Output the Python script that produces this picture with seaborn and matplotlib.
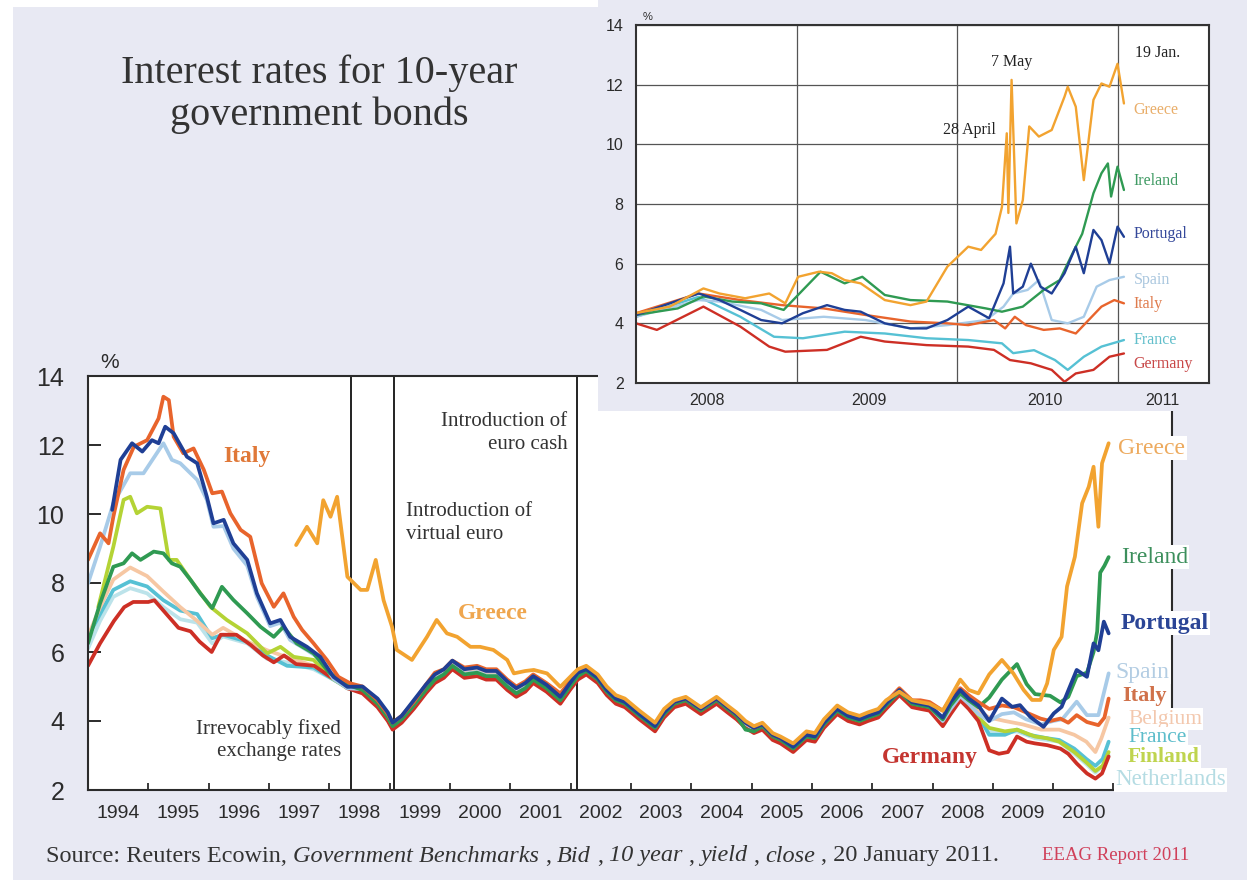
import matplotlib
matplotlib.use("Agg")
import matplotlib.pyplot as plt
from matplotlib.patches import Rectangle
import seaborn as sns
import pandas as pd

sns.set_theme(style="white")
plt.rcParams['font.family'] = ['Liberation Sans', 'DejaVu Sans']
SERIF = ['Liberation Serif', 'DejaVu Serif']

# --- Main chart data (10-year yields, %) ---
# shared time points for the period where the curves run together
MID_T = [1998.55, 1998.8, 1998.97, 1999.05, 1999.2, 1999.4, 1999.6, 1999.75, 1999.9, 2000.04,
         2000.24, 2000.45, 2000.6, 2000.77, 2000.95, 2001.1, 2001.25, 2001.38, 2001.6, 2001.83,
         2001.99, 2002.12, 2002.26, 2002.45, 2002.6, 2002.75, 2002.9, 2003.14, 2003.4, 2003.55,
         2003.72, 2003.91, 2004.16, 2004.42, 2004.6, 2004.75, 2004.9, 2005.04, 2005.18, 2005.35,
         2005.48, 2005.69, 2005.91, 2006.05, 2006.2, 2006.42, 2006.6, 2006.79, 2006.93, 2007.1,
         2007.23, 2007.45, 2007.66, 2007.8, 2007.95, 2008.17, 2008.3, 2008.46, 2008.6, 2008.76,
         2008.94]
EARLY_T = [1994.0, 1994.2, 1994.42, 1994.7, 1994.98, 1995.25, 1995.53, 1995.81, 1996.06, 1996.24,
           1996.64, 1996.97, 1997.3, 1997.74, 1998.07, 1998.3]

germany_t = [1994.0, 1994.2, 1994.43, 1994.6, 1994.75, 1995.0, 1995.1, 1995.3, 1995.5, 1995.7,
             1995.85, 1996.05, 1996.2, 1996.46, 1996.7, 1996.9, 1997.08, 1997.25, 1997.45, 1997.75,
             1998.0, 1998.15, 1998.3] + MID_T + \
            [2009.1, 2009.25, 2009.4, 2009.56, 2009.7, 2009.9, 2010.12, 2010.25, 2010.39, 2010.56,
             2010.7, 2010.81, 2010.92]
germany_v = [5.6, 6.25, 6.9, 7.3, 7.45, 7.45, 7.5, 7.1, 6.7, 6.6, 6.3, 6.0, 6.5, 6.5, 6.2, 5.9, 5.7,
             5.9, 5.65, 5.6, 5.3, 5.15, 4.95] + \
            [4.8, 4.4, 4.0, 3.75, 3.95, 4.35, 4.8, 5.1, 5.25, 5.5, 5.25, 5.3, 5.2, 5.2, 4.9, 4.7, 4.85,
             5.1, 4.85, 4.5, 4.9, 5.2, 5.35, 5.1, 4.75, 4.5, 4.4, 4.05, 3.7, 4.1, 4.4, 4.5, 4.2, 4.5,
             4.25, 4.05, 3.8, 3.65, 3.75, 3.45, 3.35, 3.1, 3.45, 3.4, 3.8, 4.2, 4.0, 3.9, 4.0, 4.1,
             4.35, 4.75, 4.4, 4.35, 4.3, 3.85, 4.2, 4.6, 4.35, 4.0, 3.15] + \
            [3.05, 3.1, 3.55, 3.4, 3.35, 3.3, 3.2, 3.05, 2.77, 2.48, 2.33, 2.48, 2.97]

italy_t = [1994.0, 1994.2, 1994.34, 1994.42, 1994.59, 1994.76, 1994.98, 1995.17, 1995.25, 1995.34,
           1995.42, 1995.58, 1995.75, 1995.92, 1996.06, 1996.22, 1996.36, 1996.53, 1996.69, 1996.88,
           1997.08, 1997.24, 1997.41, 1997.55, 1997.74, 1997.96, 1998.15, 1998.35] + MID_T + \
          [2009.15, 2009.35, 2009.55, 2009.79, 2009.95, 2010.12, 2010.25, 2010.39, 2010.56, 2010.75,
           2010.85, 2010.92]
italy_v = [8.67, 9.44, 9.15, 9.92, 11.28, 11.95, 12.14, 12.77, 13.4, 13.3, 12.24, 11.76, 11.9, 11.28,
           10.6, 10.65, 10.02, 9.54, 9.34, 7.99, 7.31, 7.7, 7.02, 6.64, 6.25, 5.77, 5.28, 5.09] + \
          [5.0, 4.6, 4.2, 3.95, 4.15, 4.55, 5.05, 5.4, 5.5, 5.75, 5.55, 5.6, 5.5, 5.5, 5.2, 5.0, 5.15,
           5.35, 5.1, 4.8, 5.15, 5.45, 5.55, 5.3, 4.95, 4.7, 4.6, 4.25, 3.9, 4.3, 4.55, 4.65, 4.35,
           4.65, 4.4, 4.2, 3.95, 3.8, 3.9, 3.6, 3.5, 3.3, 3.65, 3.6, 4.0, 4.4, 4.2, 4.1, 4.2, 4.3,
           4.55, 4.95, 4.6, 4.6, 4.55, 4.3, 4.65, 4.95, 4.75, 4.55, 4.35] + \
          [4.45, 4.4, 4.25, 4.07, 4.0, 4.07, 3.95, 4.17, 3.97, 3.88, 4.1, 4.65]

portugal_t = [1994.4, 1994.54, 1994.73, 1994.9, 1995.06, 1995.17, 1995.28, 1995.42, 1995.64, 1995.81,
              1995.97, 1996.08, 1996.25, 1996.41, 1996.64, 1996.8, 1997.02, 1997.19, 1997.35, 1997.63,
              1997.85, 1998.07, 1998.3] + MID_T + \
             [2009.15, 2009.32, 2009.45, 2009.62, 2009.84, 2010.01, 2010.14, 2010.39, 2010.56, 2010.67,
              2010.75, 2010.84, 2010.92]
portugal_v = [10.12, 11.57, 12.05, 11.81, 12.14, 12.05, 12.53, 12.34, 11.66, 11.47, 10.5, 9.73, 9.83,
              9.15, 8.67, 7.7, 6.83, 6.93, 6.44, 6.15, 5.86, 5.28, 4.99] + \
             [5.0, 4.65, 4.25, 3.95, 4.15, 4.6, 5.05, 5.35, 5.5, 5.75, 5.5, 5.55, 5.45, 5.45, 5.15, 4.95,
              5.1, 5.3, 5.05, 4.7, 5.1, 5.4, 5.5, 5.25, 4.9, 4.65, 4.55, 4.2, 3.85, 4.25, 4.55, 4.65,
              4.35, 4.65, 4.4, 4.2, 3.95, 3.8, 3.9, 3.6, 3.5, 3.25, 3.6, 3.55, 3.95, 4.35, 4.15, 4.05,
              4.15, 4.25, 4.5, 4.9, 4.55, 4.5, 4.45, 4.1, 4.55, 4.9, 4.65, 4.45, 4.0] + \
             [4.65, 4.41, 4.46, 4.12, 3.83, 4.22, 4.41, 5.48, 5.28, 6.25, 6.05, 6.88, 6.54]

spain_t = [1994.0, 1994.2, 1994.42, 1994.7, 1994.92, 1995.14, 1995.25, 1995.39, 1995.53, 1995.81,
           1995.97, 1996.08, 1996.25, 1996.41, 1996.64, 1996.8, 1997.02, 1997.19, 1997.35, 1997.63,
           1997.85, 1998.07, 1998.3] + MID_T + \
          [2009.15, 2009.35, 2009.55, 2009.8, 2010.0, 2010.15, 2010.39, 2010.56, 2010.75, 2010.92]
spain_v = [7.99, 9.05, 10.31, 11.18, 11.18, 11.76, 12.05, 11.57, 11.47, 10.99, 10.41, 9.63, 9.65, 9.0,
           8.5, 7.6, 6.75, 6.85, 6.35, 6.05, 5.8, 5.22, 4.95] + \
          [4.92, 4.52, 4.12, 3.87, 4.07, 4.47, 4.92, 5.22, 5.37, 5.62, 5.37, 5.42, 5.32, 5.32, 5.02,
           4.82, 4.97, 5.22, 4.97, 4.62, 5.02, 5.32, 5.47, 5.22, 4.87, 4.62, 4.52, 4.17, 3.82, 4.22,
           4.52, 4.62, 4.32, 4.62, 4.37, 4.17, 3.92, 3.77, 3.87, 3.57, 3.47, 3.22, 3.57, 3.52, 3.92,
           4.32, 4.12, 4.02, 4.12, 4.22, 4.47, 4.87, 4.52, 4.47, 4.42, 4.0, 4.35, 4.72, 4.5, 4.2,
           4.0] + \
          [4.2, 4.25, 4.05, 3.9, 4.0, 4.05, 4.56, 4.17, 4.17, 5.38]

ireland_t = [1994.0, 1994.2, 1994.42, 1994.59, 1994.73, 1994.87, 1995.09, 1995.25, 1995.39, 1995.53,
             1995.7, 1995.86, 1996.06, 1996.22, 1996.41, 1996.64, 1996.86, 1997.08, 1997.24, 1997.46,
             1997.74, 1998.01, 1998.3] + MID_T + \
            [2009.15, 2009.4, 2009.56, 2009.7, 2009.95, 2010.12, 2010.25, 2010.39, 2010.56, 2010.67,
             2010.73, 2010.78, 2010.85, 2010.92]
ireland_v = [6.25, 7.41, 8.47, 8.57, 8.86, 8.67, 8.91, 8.86, 8.57, 8.47, 8.09, 7.7, 7.27, 7.89, 7.51,
             7.12, 6.73, 6.44, 6.73, 6.25, 5.96, 5.38, 5.05] + \
            [4.9, 4.5, 4.1, 3.85, 4.05, 4.45, 4.9, 5.2, 5.35, 5.6, 5.35, 5.4, 5.3, 5.3, 5.0, 4.8, 4.95,
             5.2, 4.95, 4.6, 5.0, 5.3, 5.45, 5.2, 4.85, 4.6, 4.5, 4.15, 3.8, 4.2, 4.5, 4.6, 4.3, 4.6,
             4.35, 4.15, 3.75, 3.7, 3.85, 3.55, 3.45, 3.2, 3.55, 3.5, 3.9, 4.3, 4.1, 4.0, 4.1, 4.2,
             4.45, 4.85, 4.5, 4.45, 4.4, 4.05, 4.45, 4.8, 4.6, 4.4, 4.68] + \
            [5.2, 5.65, 5.07, 4.78, 4.73, 4.54, 4.7, 5.3, 5.4, 6.0, 6.6, 8.3, 8.5, 8.75]

finland_t = [1994.17, 1994.42, 1994.59, 1994.7, 1994.81, 1994.98, 1995.2, 1995.34, 1995.47, 1995.7,
             1996.03, 1996.3, 1996.64, 1996.97, 1997.19, 1997.41, 1997.74, 1998.01, 1998.3] + MID_T + \
            [2009.2, 2009.4, 2009.7, 2009.9, 2010.1, 2010.35, 2010.55, 2010.7, 2010.82, 2010.92]
finland_v = [7.3, 9.05, 10.41, 10.5, 10.02, 10.21, 10.16, 8.67, 8.67, 8.09, 7.31, 6.93, 6.54, 5.96,
             6.15, 5.86, 5.77, 5.28, 4.95] + \
            [4.88, 4.48, 4.08, 3.83, 4.03, 4.43, 4.88, 5.18, 5.33, 5.58, 5.33, 5.38, 5.28, 5.28, 4.98,
             4.78, 4.93, 5.18, 4.93, 4.58, 4.98, 5.28, 5.43, 5.18, 4.83, 4.58, 4.48, 4.13, 3.78, 4.18,
             4.48, 4.58, 4.28, 4.58, 4.33, 4.13, 3.88, 3.73, 3.83, 3.53, 3.43, 3.18, 3.53, 3.48, 3.88,
             4.28, 4.08, 3.98, 4.08, 4.18, 4.43, 4.83, 4.48, 4.43, 4.38, 3.95, 4.3, 4.68, 4.43, 4.1,
             3.8] + \
            [3.7, 3.75, 3.55, 3.5, 3.4, 3.1, 2.8, 2.55, 2.7, 3.1]

belgium_t = EARLY_T + MID_T + [2009.2, 2009.5, 2009.8, 2010.1, 2010.35, 2010.55, 2010.7, 2010.8, 2010.92]
belgium_v = [6.45, 7.3, 8.1, 8.45, 8.2, 7.75, 7.3, 6.9, 6.5, 6.7, 6.3, 6.05, 5.85, 5.6, 5.3, 5.0] + \
            [4.95, 4.55, 4.15, 3.9, 4.1, 4.5, 4.95, 5.25, 5.4, 5.65, 5.4, 5.45, 5.35, 5.35, 5.05, 4.85,
             5.0, 5.25, 5.0, 4.65, 5.05, 5.35, 5.5, 5.25, 4.9, 4.65, 4.55, 4.2, 3.85, 4.25, 4.55, 4.65,
             4.35, 4.65, 4.4, 4.2, 3.95, 3.8, 3.9, 3.6, 3.5, 3.25, 3.6, 3.55, 3.95, 4.35, 4.15, 4.05,
             4.15, 4.25, 4.5, 4.85, 4.55, 4.5, 4.45, 4.05, 4.4, 4.75, 4.55, 4.3, 4.1] + \
            [4.0, 3.9, 3.75, 3.75, 3.6, 3.4, 3.1, 3.5, 4.1]

france_t = EARLY_T + MID_T + [2009.2, 2009.4, 2009.6, 2009.9, 2010.1, 2010.35, 2010.55, 2010.7, 2010.82, 2010.92]
france_v = [6.45, 7.1, 7.8, 8.05, 7.9, 7.5, 7.2, 7.1, 6.4, 6.5, 6.3, 5.9, 5.6, 5.55, 5.2, 4.97] + \
           [4.9, 4.5, 4.1, 3.85, 4.05, 4.45, 4.9, 5.2, 5.35, 5.6, 5.35, 5.4, 5.3, 5.3, 5.0, 4.8, 4.95,
            5.2, 4.95, 4.6, 5.0, 5.3, 5.45, 5.2, 4.85, 4.6, 4.5, 4.15, 3.8, 4.2, 4.5, 4.6, 4.3, 4.6,
            4.35, 4.15, 3.9, 3.75, 3.85, 3.55, 3.45, 3.2, 3.55, 3.5, 3.9, 4.3, 4.1, 4.0, 4.1, 4.2,
            4.45, 4.85, 4.5, 4.45, 4.4, 3.95, 4.3, 4.7, 4.45, 4.15, 3.6] + \
           [3.6, 3.75, 3.6, 3.5, 3.45, 3.2, 2.9, 2.7, 2.9, 3.4]

netherlands_t = EARLY_T + MID_T + [2009.2, 2009.4, 2009.7, 2009.9, 2010.1, 2010.35, 2010.55, 2010.7, 2010.82, 2010.92]
netherlands_v = [6.1, 6.9, 7.6, 7.85, 7.7, 7.3, 6.95, 6.85, 6.25, 6.45, 6.25, 5.8, 5.7, 5.5, 5.2, 4.95] + \
                [4.85, 4.45, 4.05, 3.8, 4.0, 4.4, 4.85, 5.15, 5.3, 5.55, 5.3, 5.35, 5.25, 5.25, 4.95,
                 4.75, 4.9, 5.15, 4.9, 4.55, 4.95, 5.25, 5.4, 5.15, 4.8, 4.55, 4.45, 4.1, 3.75, 4.15,
                 4.45, 4.55, 4.25, 4.55, 4.3, 4.1, 3.85, 3.7, 3.8, 3.5, 3.4, 3.15, 3.5, 3.45, 3.85,
                 4.25, 4.05, 3.95, 4.05, 4.15, 4.4, 4.8, 4.45, 4.4, 4.35, 3.92, 4.27, 4.65, 4.4, 4.05,
                 3.7] + \
                [3.65, 3.7, 3.5, 3.45, 3.4, 3.05, 2.75, 2.5, 2.7, 3.0]

greece_t = [1997.45, 1997.63, 1997.8, 1997.9, 1998.02, 1998.13, 1998.3, 1998.52, 1998.63, 1998.77,
            1998.9, 1999.04, 1999.12, 1999.37, 1999.62, 1999.78, 1999.95, 2000.12, 2000.34, 2000.5,
            2000.72, 2000.95, 2001.06, 2001.25, 2001.39, 2001.61, 2001.83, 2002.05] + MID_T[21:] + \
           [2009.15, 2009.34, 2009.51, 2009.65, 2009.79, 2009.9, 2010.01, 2010.14, 2010.23, 2010.36,
            2010.48, 2010.59, 2010.67, 2010.75, 2010.81, 2010.92]
greece_v = [9.1, 9.63, 9.15, 10.4, 9.92, 10.5, 8.18, 7.8, 7.8, 8.67, 7.5, 6.73, 6.06, 5.77, 6.44, 6.93,
            6.54, 6.44, 6.15, 6.15, 6.06, 5.77, 5.38, 5.45, 5.48, 5.38, 4.99, 5.38] + \
           [5.5, 5.6, 5.35, 5.0, 4.75, 4.65, 4.3, 3.95, 4.35, 4.6, 4.7, 4.4, 4.7, 4.45, 4.25, 4.0, 3.85,
            3.95, 3.65, 3.55, 3.35, 3.7, 3.65, 4.05, 4.45, 4.25, 4.15, 4.25, 4.35, 4.6, 4.85, 4.6, 4.55,
            4.5, 4.3, 4.7, 5.2, 4.9, 4.8, 5.35] + \
           [5.77, 5.38, 4.9, 4.61, 4.61, 5.09, 6.06, 6.44, 7.9, 8.76, 10.31, 10.79, 11.37, 9.63, 11.47,
            12.05]

# --- Inset data (2008 - Jan 2011) ---
ins_greece_t = [2008.0, 2008.21, 2008.42, 2008.52, 2008.68, 2008.83, 2008.93, 2009.01, 2009.14, 2009.22,
                2009.3, 2009.4, 2009.55, 2009.71, 2009.81, 2009.94, 2010.07, 2010.15, 2010.24, 2010.28,
                2010.31, 2010.32, 2010.34, 2010.37, 2010.41, 2010.45, 2010.51, 2010.59, 2010.67, 2010.69,
                2010.74, 2010.79, 2010.85, 2010.9, 2010.95, 2011.0, 2011.04]
ins_greece_v = [4.34, 4.56, 5.17, 5.0, 4.84, 5.0, 4.67, 5.56, 5.73, 5.68, 5.45, 5.34, 4.78, 4.61, 4.73,
                5.9, 6.57, 6.46, 7.0, 7.9, 10.37, 7.7, 12.16, 7.35, 8.13, 10.6, 10.26, 10.48, 11.6, 11.93,
                11.26, 8.8, 11.49, 12.04, 11.93, 12.7, 11.37]
ins_ireland_t = [2008.0, 2008.26, 2008.42, 2008.6, 2008.78, 2008.92, 2009.04, 2009.15, 2009.3, 2009.41,
                 2009.55, 2009.71, 2009.94, 2010.18, 2010.28, 2010.41, 2010.54, 2010.64, 2010.72, 2010.78,
                 2010.85, 2010.9, 2010.94, 2010.96, 2011.0, 2011.04]
ins_ireland_v = [4.28, 4.5, 4.9, 4.73, 4.67, 4.45, 5.12, 5.73, 5.34, 5.56, 4.95, 4.78, 4.73, 4.5, 4.39,
                 4.56, 5.12, 5.45, 6.35, 7.0, 8.36, 9.03, 9.36, 8.25, 9.25, 8.47]
ins_portugal_t = [2008.0, 2008.39, 2008.52, 2008.65, 2008.78, 2008.91, 2009.04, 2009.19, 2009.3, 2009.4,
                  2009.55, 2009.71, 2009.81, 2009.94, 2010.07, 2010.2, 2010.29, 2010.33, 2010.35, 2010.41,
                  2010.46, 2010.52, 2010.59, 2010.67, 2010.74, 2010.79, 2010.85, 2010.9, 2010.95, 2011.0,
                  2011.04]
ins_portugal_v = [4.28, 5.0, 4.78, 4.45, 4.11, 4.0, 4.34, 4.61, 4.45, 4.39, 4.0, 3.83, 3.83, 4.11, 4.56,
                  4.17, 5.34, 6.57, 5.0, 5.23, 6.0, 5.23, 5.0, 5.68, 6.57, 5.68, 7.13, 6.79, 6.01, 7.24, 6.9]
ins_spain_t = [2008.0, 2008.39, 2008.52, 2008.78, 2008.91, 2009.17, 2009.43, 2009.71, 2009.94, 2010.18,
               2010.29, 2010.35, 2010.44, 2010.51, 2010.59, 2010.69, 2010.79, 2010.87, 2010.95, 2011.04]
ins_spain_v = [4.22, 4.78, 4.73, 4.45, 4.11, 4.22, 4.11, 3.83, 3.94, 4.11, 4.56, 5.0, 5.12, 5.45, 4.11,
               4.0, 4.22, 5.23, 5.45, 5.56]
ins_italy_t = [2008.0, 2008.39, 2008.65, 2008.91, 2009.17, 2009.43, 2009.71, 2009.94, 2010.07, 2010.23,
               2010.3, 2010.36, 2010.43, 2010.54, 2010.64, 2010.74, 2010.82, 2010.9, 2010.98, 2011.04]
ins_italy_v = [4.34, 5.0, 4.78, 4.61, 4.5, 4.28, 4.06, 4.0, 3.94, 4.11, 3.83, 4.22, 3.94, 3.78, 3.83,
               3.66, 4.11, 4.56, 4.78, 4.67]
ins_france_t = [2008.0, 2008.39, 2008.65, 2008.86, 2009.04, 2009.3, 2009.55, 2009.81, 2010.07, 2010.28,
                2010.35, 2010.48, 2010.61, 2010.69, 2010.79, 2010.9, 2011.04]
ins_france_v = [4.22, 4.89, 4.22, 3.55, 3.5, 3.72, 3.66, 3.5, 3.44, 3.33, 3.0, 3.1, 2.77, 2.44, 2.88,
                3.22, 3.44]
ins_germany_t = [2008.0, 2008.13, 2008.42, 2008.65, 2008.83, 2008.93, 2009.19, 2009.4, 2009.55, 2009.81,
                 2010.07, 2010.23, 2010.33, 2010.46, 2010.59, 2010.67, 2010.74, 2010.85, 2010.95, 2011.04]
ins_germany_v = [4.0, 3.78, 4.56, 3.89, 3.22, 3.05, 3.11, 3.55, 3.39, 3.27, 3.22, 3.11, 2.77, 2.66, 2.44,
                 2.04, 2.32, 2.44, 2.88, 2.99]

# draw order (last on top) and colours
MAIN_ORDER = ['Netherlands', 'France', 'Belgium', 'Finland', 'Germany', 'Spain', 'Ireland',
              'Italy', 'Portugal', 'Greece']
LINE_COLORS = {'Greece': '#F2A330', 'Ireland': '#2F9A52', 'Portugal': '#1F3F95', 'Spain': '#A8CBE8',
               'Italy': '#E8642C', 'Belgium': '#F6C7A3', 'France': '#56C1D4', 'Finland': '#B4D335',
               'Netherlands': '#BCE3EA', 'Germany': '#CD2F25'}
INSET_ORDER = ['France', 'Germany', 'Spain', 'Italy', 'Ireland', 'Portugal', 'Greece']

LAVENDER = '#E8E9F3'
DARK = '#2b2b2b'


def long_frame(series):
    rows = []
    for name, t, v in series:
        rows += [(name, a, b) for a, b in zip(t, v)]
    return pd.DataFrame(rows, columns=['country', 'year', 'rate'])


df_main = long_frame([
    ('Germany', germany_t, germany_v), ('Italy', italy_t, italy_v),
    ('Portugal', portugal_t, portugal_v), ('Spain', spain_t, spain_v),
    ('Ireland', ireland_t, ireland_v), ('Finland', finland_t, finland_v),
    ('Belgium', belgium_t, belgium_v), ('France', france_t, france_v),
    ('Netherlands', netherlands_t, netherlands_v), ('Greece', greece_t, greece_v),
])
df_inset = long_frame([
    ('Greece', ins_greece_t, ins_greece_v), ('Ireland', ins_ireland_t, ins_ireland_v),
    ('Portugal', ins_portugal_t, ins_portugal_v), ('Spain', ins_spain_t, ins_spain_v),
    ('Italy', ins_italy_t, ins_italy_v), ('France', ins_france_t, ins_france_v),
    ('Germany', ins_germany_t, ins_germany_v),
])

W, H = 1247, 883
fig = plt.figure(figsize=(W / 100, H / 100), dpi=100, facecolor='white')
fig.add_artist(Rectangle((13 / W, 3 / H), 1, 1 - 10 / H, transform=fig.transFigure,
                         facecolor=LAVENDER, edgecolor='none', zorder=-10))

# ---------------- main chart ----------------
ax = fig.add_axes([88 / W, 1 - 790 / H, (1172 - 88) / W, (790 - 376) / H], zorder=0)
ax.set_facecolor('white')
sns.lineplot(data=df_main, x='year', y='rate', hue='country', hue_order=MAIN_ORDER,
             palette=LINE_COLORS, linewidth=2.7, estimator=None, legend=False, ax=ax)
ax.set_xlim(1994.0, 2011.97)
ax.set_ylim(2, 14)
ax.set_xlabel('')
ax.set_ylabel('')
for s in ax.spines.values():
    s.set_color(DARK)
    s.set_linewidth(1.5)
ax.spines['bottom'].set_bounds(1994.0, 2011.0)

ax.set_yticks([2, 4, 6, 8, 10, 12, 14])
ax.tick_params(axis='y', left=True, direction='in', length=9, width=1.4, color=DARK,
               labelsize=18, labelcolor=DARK, pad=17)
ax.set_xticks(list(range(1995, 2012)))
ax.set_xticks([y + 0.5 for y in range(1994, 2011)], minor=True)
ax.set_xticklabels([])
ax.set_xticklabels([str(y) for y in range(1994, 2011)], minor=True)
ax.tick_params(axis='x', which='major', bottom=True, direction='in', length=5, width=1.3, color=DARK)
ax.tick_params(axis='x', which='minor', bottom=True, length=0, labelsize=14, labelcolor=DARK, pad=11)

for xv in [1998.36, 1999.07, 2002.1]:
    ax.axvline(xv, color='#111111', lw=1.3, zorder=1)

ann = dict(family=SERIF, fontsize=15, color='#333333', linespacing=1.25, va='center')
ax.text(2001.95, 12.35, 'Introduction of\neuro cash', ha='right', **ann)
ax.text(1999.27, 9.74, 'Introduction of\nvirtual euro', ha='left', **ann)
ax.text(1998.2, 3.45, 'Irrevocably fixed\nexchange rates', ha='right', **ann)

lab = dict(family=SERIF, fontsize=17, fontweight='bold', ha='center', va='center')
ax.text(1996.63, 11.66, 'Italy', color='#E07838', **lab)
ax.text(2000.71, 7.13, 'Greece', color='#EFA64E', **lab)
ax.text(2007.95, 2.93, 'Germany', color='#C43530', **lab)

# end-of-line labels (name, x, y, colour, weight, size)
END_LABELS = [('Greece', 2011.08, 11.91, '#EDAA5E', 'normal', 17),
              ('Ireland', 2011.12, 8.75, '#3C8F5C', 'normal', 17),
              ('Portugal', 2011.12, 6.84, '#2B4596', 'bold', 17),
              ('Spain', 2011.03, 5.42, '#B3CDE3', 'normal', 17),
              ('Italy', 2011.14, 4.72, '#D0714A', 'bold', 16),
              ('Belgium', 2011.24, 4.05, '#F3C8AE', 'normal', 15.5),
              ('France', 2011.24, 3.52, '#5DBDCB', 'normal', 15.5),
              ('Finland', 2011.24, 2.97, '#BFD44E', 'bold', 15.5),
              ('Netherlands', 2011.03, 2.29, '#B5DCE3', 'normal', 16.5)]
for name, xv, yv, col, wt, sz in END_LABELS:
    ax.text(xv, yv, name, family=SERIF, fontsize=sz, fontweight=wt, color=col, ha='left',
            va='center', zorder=5, bbox=dict(facecolor='white', edgecolor='none', pad=1.0))

fig.text(110 / W, 1 - 362 / H, '%', fontsize=15, color=DARK, ha='center', va='center')

# ---------------- inset ----------------
fig.add_artist(Rectangle((598 / W, 1 - 411 / H), 1, 1, transform=fig.transFigure,
                         facecolor=LAVENDER, edgecolor='none', zorder=1))
axi = fig.add_axes([636 / W, 1 - 383 / H, (1209 - 636) / W, (383 - 25) / H], zorder=2)
axi.set_facecolor('white')
axi.set_xlim(2008.0, 2011.57)
axi.set_ylim(2, 14)
axi.set_yticks([2, 4, 6, 8, 10, 12, 14])
axi.set_xticks([2009, 2010, 2011])
axi.set_xticklabels([])
axi.set_xticks([2008.44, 2009.45, 2010.55, 2011.28], minor=True)
axi.set_xticklabels(['2008', '2009', '2010', '2011'], minor=True)
axi.tick_params(axis='y', left=True, length=0, labelsize=11.5, labelcolor=DARK, pad=9)
axi.tick_params(axis='x', which='both', bottom=True, length=0, labelsize=11.5, labelcolor=DARK, pad=7)
axi.grid(True, which='major', color='#555555', lw=0.9)
axi.set_axisbelow(True)
for s in axi.spines.values():
    s.set_color('#333333')
    s.set_linewidth(1.5)
sns.lineplot(data=df_inset, x='year', y='rate', hue='country', hue_order=INSET_ORDER,
             palette=LINE_COLORS, linewidth=1.7, estimator=None, legend=False, ax=axi)
axi.set_xlabel('')
axi.set_ylabel('')

INSET_LABELS = [('Greece', 11.15, '#E9AE6A'), ('Ireland', 8.77, '#3F9A63'),
                ('Portugal', 7.0, '#34489A'), ('Spain', 5.45, '#A9C6DE'),
                ('Italy', 4.65, '#DF7B4C'), ('France', 3.44, '#62BFCB'),
                ('Germany', 2.64, '#C84848')]
for name, yv, col in INSET_LABELS:
    axi.text(2011.1, yv, name, family=SERIF, fontsize=11.5, color=col, ha='left', va='center')
ia = dict(family=SERIF, fontsize=11.5, color='#222222', va='center')
axi.text(2010.34, 12.77, '7 May', ha='center', **ia)
axi.text(2010.24, 10.48, '28 April', ha='right', **ia)
axi.text(2011.25, 13.05, '19 Jan.', ha='center', **ia)
fig.text(648 / W, 1 - 17 / H, '%', fontsize=8, color=DARK, ha='center', va='center', zorder=3)

# ---------------- title and source ----------------
fig.text(319.5 / W, 1 - 94 / H, 'Interest rates for 10-year\ngovernment bonds', family=SERIF,
         fontsize=29, color='#333333', ha='center', va='center', linespacing=1.15)

SOURCE_PARTS = [('Source: Reuters Ecowin,', 'normal'), ('Government Benchmarks', 'italic'),
                (',', 'normal'), ('Bid', 'italic'), (',', 'normal'), ('10 year', 'italic'),
                (',', 'normal'), ('yield', 'italic'), (',', 'normal'), ('close', 'italic'),
                (', 20 January 2011.', 'normal')]
fig.canvas.draw()
renderer = fig.canvas.get_renderer()
xpos = 46
for piece, style in SOURCE_PARTS:
    t = fig.text(xpos / W, 1 - 856 / H, piece, family=SERIF, style=style, fontsize=17.5,
                 color='#333333', va='center', ha='left')
    bb = t.get_window_extent(renderer=renderer)
    xpos = bb.x1 + 6
fig.text(1042 / W, 1 - 856 / H, 'EEAG Report 2011', family=SERIF, fontsize=13.5,
         color='#D0405A', va='center', ha='left')

fig.savefig('out.png', dpi=100, facecolor=fig.get_facecolor())
